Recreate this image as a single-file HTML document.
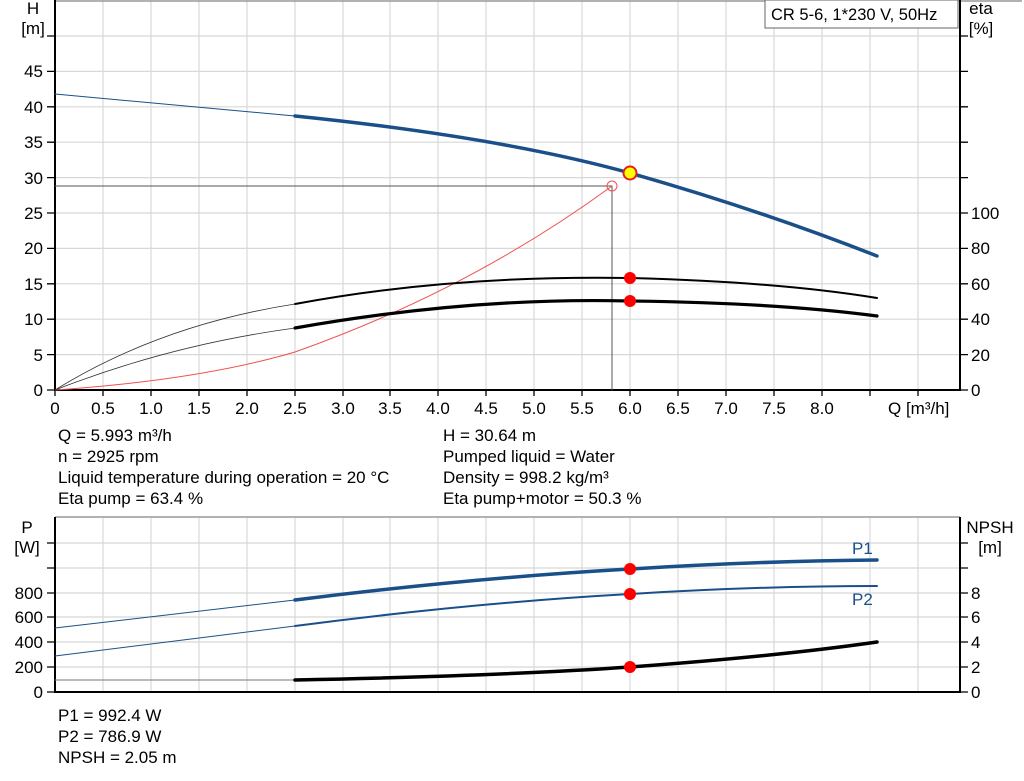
<!DOCTYPE html>
<html><head><style>body{margin:0;background:#fff}svg{display:block;font-family:"Liberation Sans",sans-serif}</style></head><body>
<svg width="1024" height="781" viewBox="0 0 1024 781" xmlns="http://www.w3.org/2000/svg">
<g stroke="#d8d8d8" stroke-width="1.2">
<path d="M103,0V390M151,0V390M199,0V390M247,0V390M295,0V390M343,0V390M390,0V390M438,0V390M486,0V390M534,0V390M582,0V390M630,0V390M678,0V390M726,0V390M774,0V390M822,0V390M870,0V390M918,0V390"/>
<path d="M55,354.6H960M55,319.2H960M55,283.8H960M55,248.4H960M55,213H960M55,177.6H960M55,142.2H960M55,106.8H960M55,71.4H960M55,36H960"/>
<path d="M103,517V692M151,517V692M199,517V692M247,517V692M295,517V692M343,517V692M390,517V692M438,517V692M486,517V692M534,517V692M582,517V692M630,517V692M678,517V692M726,517V692M774,517V692M822,517V692M870,517V692M918,517V692"/>
<path d="M55,667H960M55,642H960M55,617H960M55,593H960M55,568H960M55,543H960"/>
</g>
<path d="M55,1H1022" stroke="#999" stroke-width="1.5"/>
<path d="M55,517H960" stroke="#999" stroke-width="1.5"/>
<g stroke="#000" stroke-width="2" fill="none">
<path d="M55,0V390H960V0"/>
<path d="M55,517V692H960V517"/>
</g>
<g stroke="#000" stroke-width="1.3">
<path d="M47,390H55M47,354.6H55M47,319.2H55M47,283.8H55M47,248.4H55M47,213H55M47,177.6H55M47,142.2H55M47,106.8H55M47,71.4H55M47,36H55"/>
<path d="M960,390H968M960,354.6H968M960,319.2H968M960,283.8H968M960,248.4H968M960,213H968M960,177.6H968M960,142.2H968M960,106.8H968M960,71.4H968M960,36H968"/>
<path d="M55,390V396M103,390V396M151,390V396M199,390V396M247,390V396M295,390V396M343,390V396M390,390V396M438,390V396M486,390V396M534,390V396M582,390V396M630,390V396M678,390V396M726,390V396M774,390V396M822,390V396M870,390V396M918,390V396"/>
<path d="M47,692H55M47,667H55M47,642H55M47,617H55M47,593H55M47,568H55M47,543H55M960,692H968M960,667H968M960,642H968M960,617H968M960,593H968M960,568H968M960,543H968"/>
</g>
<rect x="765" y="0" width="193" height="28" fill="#fff" stroke="#666" stroke-width="1"/>
<text x="771" y="20" font-size="16.5">CR 5-6, 1*230 V, 50Hz</text>
<g font-size="17" fill="#000">
<text x="33" y="14" text-anchor="middle">H</text><text x="33" y="34" text-anchor="middle">[m]</text>
<text x="981" y="14" text-anchor="middle">eta</text><text x="981" y="34" text-anchor="middle">[%]</text>
<g text-anchor="end">
<text x="43" y="396">0</text><text x="43" y="361">5</text><text x="43" y="325">10</text><text x="43" y="290">15</text><text x="43" y="254">20</text><text x="43" y="219">25</text><text x="43" y="184">30</text><text x="43" y="148">35</text><text x="43" y="113">40</text><text x="43" y="77">45</text>
</g>
<text x="971" y="396">0</text><text x="971" y="361">20</text><text x="971" y="325">40</text><text x="971" y="290">60</text><text x="971" y="254">80</text><text x="971" y="219">100</text>
<g text-anchor="middle">
<text x="55" y="414">0</text><text x="103" y="414">0.5</text><text x="151" y="414">1.0</text><text x="199" y="414">1.5</text><text x="247" y="414">2.0</text><text x="295" y="414">2.5</text><text x="343" y="414">3.0</text><text x="390" y="414">3.5</text><text x="438" y="414">4.0</text><text x="486" y="414">4.5</text><text x="534" y="414">5.0</text><text x="582" y="414">5.5</text><text x="630" y="414">6.0</text><text x="678" y="414">6.5</text><text x="726" y="414">7.0</text><text x="774" y="414">7.5</text><text x="822" y="414">8.0</text>
</g>
<text x="888" y="414">Q [m³/h]</text>
<text x="58" y="441">Q = 5.993 m³/h</text><text x="58" y="462">n = 2925 rpm</text><text x="58" y="483">Liquid temperature during operation = 20 °C</text><text x="58" y="504">Eta pump = 63.4 %</text>
<text x="443" y="441">H = 30.64 m</text><text x="443" y="462">Pumped liquid = Water</text><text x="443" y="483">Density = 998.2 kg/m³</text><text x="443" y="504">Eta pump+motor = 50.3 %</text>
<text x="27" y="533" text-anchor="middle">P</text><text x="27" y="553" text-anchor="middle">[W]</text>
<text x="990" y="533" text-anchor="middle">NPSH</text><text x="990" y="553" text-anchor="middle">[m]</text>
<g text-anchor="end"><text x="43" y="698">0</text><text x="43" y="673">200</text><text x="43" y="648">400</text><text x="43" y="623">600</text><text x="43" y="599">800</text></g>
<text x="971" y="698">0</text><text x="971" y="673">2</text><text x="971" y="648">4</text><text x="971" y="623">6</text><text x="971" y="599">8</text>
<text x="852" y="554" fill="#1a4f8a">P1</text><text x="852" y="605" fill="#1a4f8a">P2</text>
<text x="58" y="721">P1 = 992.4 W</text><text x="58" y="742">P2 = 786.9 W</text><text x="58" y="763">NPSH = 2.05 m</text>
</g>
<g fill="none" stroke-linecap="round">
<path d="M55,186H612V390" stroke="#555" stroke-width="1"/>
<path d="M55,390Q200,380 295,352Q470,290 612,186" stroke="#f05050" stroke-width="1"/>
<path d="M55,94L295,116" stroke="#1a4f8a" stroke-width="1"/>
<path d="M295,116Q500,137 630,173Q760,210 877,256" stroke="#1a4f8a" stroke-width="3.5"/>
<path d="M55,390Q160,325 295,304" stroke="#333" stroke-width="0.8"/>
<path d="M295,304Q450,275 630,278Q780,282 877,298" stroke="#000" stroke-width="2"/>
<path d="M55,390Q170,345 295,328" stroke="#333" stroke-width="0.8"/>
<path d="M295,328Q470,297 630,301Q780,303 877,316" stroke="#000" stroke-width="3.2"/>
<path d="M55,628L295,600" stroke="#1a4f8a" stroke-width="1"/>
<path d="M295,600Q470,578 630,569Q760,561 877,560" stroke="#1a4f8a" stroke-width="3.5"/>
<path d="M55,656L295,626" stroke="#1a4f8a" stroke-width="1"/>
<path d="M295,626Q470,603 630,594Q760,586 877,586" stroke="#1a4f8a" stroke-width="2"/>
<path d="M55,680L295,680" stroke="#777" stroke-width="1"/>
<path d="M295,680Q500,676 630,667Q780,656 877,642" stroke="#000" stroke-width="3.5"/>
</g>
<circle cx="612" cy="186" r="5" fill="none" stroke="#f05050" stroke-width="1"/>
<circle cx="630" cy="173" r="6.5" fill="#ffff00" stroke="#e02020" stroke-width="2"/>
<g fill="#ff0000"><circle cx="630" cy="278" r="6"/><circle cx="630" cy="301" r="6"/><circle cx="630" cy="569" r="6"/><circle cx="630" cy="594" r="6"/><circle cx="630" cy="667" r="6"/></g>
</svg>
</body></html>
